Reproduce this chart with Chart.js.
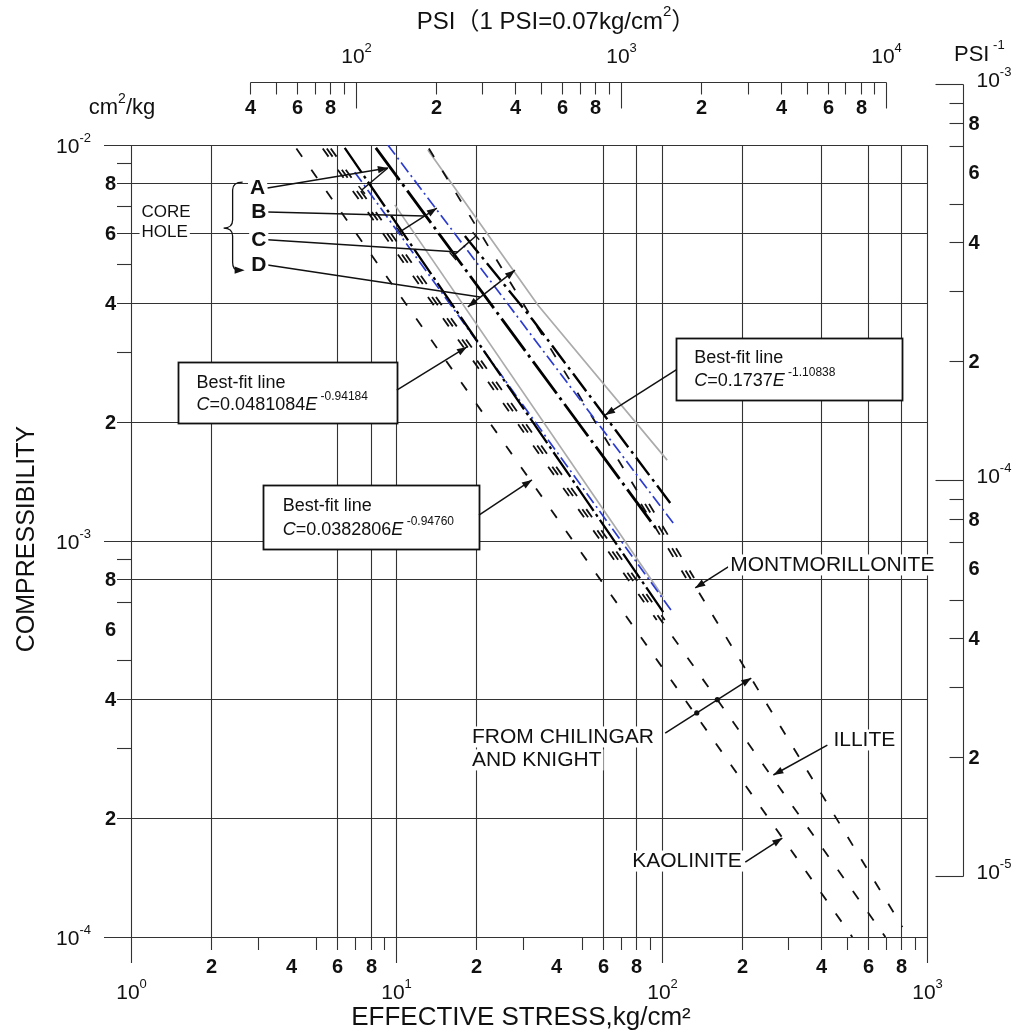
<!DOCTYPE html>
<html>
<head>
<meta charset="utf-8">
<title>Compressibility vs effective stress</title>
<script src="https://cdn.jsdelivr.net/npm/chart.js@4.4.1/dist/chart.umd.min.js"></script>
<style>
html,body{margin:0;padding:0;background:#fff;}
#wrap{position:relative;width:1024px;height:1034px;}
canvas{display:block;}
</style>
</head>
<body>
<div id="wrap"><canvas id="chart" width="1024" height="1034"></canvas></div>
<script>
// ---------------- DATA (E = effective stress, kg/cm2 ; C = compressibility, cm2/kg) ----------------
// Chilingar & Knight clay lines (dashed)
const kaoliniteLine        = [[4.2, 9.8e-3], [523, 1.0e-4]];
const illiteLine           = [[5.47, 9.8e-3], [697, 1.0e-4]];
const illiteLineLeft       = [[5.28, 9.8e-3], [95.8, 6.32e-4]];
const illiteLineRight      = [[5.66, 9.8e-3], [102.7, 6.32e-4]];
const montmorilloniteLine  = [[13.26, 9.8e-3], [808, 1.06e-4]];
const montmorilloniteLeft  = [[79.8, 1.307e-3], [123.6, 8.065e-4]];
const montmorilloniteRight = [[85.5, 1.307e-3], [132.5, 8.065e-4]];
const montmorilloniteRefPt = [82.6, 1.307e-3];
// best-fit lines (blue dash-dot)
const fitLineUpper = [[9.29, 1.0e-2], [110.5, 1.11e-3]];
const fitLineLower = [[6.97, 8.54e-3], [110.5, 6.58e-4]];
// grey envelope lines
const grayLineUpper = [[13.15, 9.71e-3], [34.2, 3.94e-3], [104.9, 1.60e-3]];
const grayLineLower = [[9.87, 7.06e-3], [101.3, 7.22e-4]];
// core-hole data lines (black)
const coreLine1 = [[6.39, 9.83e-3], [103.1, 6.50e-4]];
const coreLine2 = [[8.37, 9.83e-3], [96.2, 1.066e-3]];
const coreLine3 = [[18.13, 5.89e-3], [32.7, 3.614e-3], [107.7, 1.247e-3]];

// axes: tick values
const xGridValues   = [1, 2, 6, 8, 10, 20, 60, 80, 100, 200, 400, 600, 800, 1000];
const xMinorTicks   = [3, 5, 7, 9, 30, 50, 70, 90, 300, 500, 700, 900];
const xDigitLabels  = [2, 4, 6, 8, 20, 40, 60, 80, 200, 400, 600, 800];
const xDecadeValues = [1, 10, 100, 1000];
const yGridValues   = [1e-2, 8e-3, 6e-3, 4e-3, 2e-3, 1e-3, 8e-4, 4e-4, 2e-4, 1e-4];
const yMinorTicks   = [9e-3, 7e-3, 5e-3, 3e-3, 9e-4, 7e-4, 5e-4, 3e-4];
const yDigitLabels  = [8e-3, 6e-3, 4e-3, 2e-3, 8e-4, 6e-4, 4e-4, 2e-4];
const yDecadeValues = [1e-2, 1e-3, 1e-4];
const psiTicks = [40, 50, 60, 70, 80, 90, 100, 200, 300, 400, 500, 600, 700, 800, 900, 1000,
                  2000, 3000, 4000, 5000, 6000, 7000, 8000, 9000, 10000];
const psiDigitLabels = [40, 60, 80, 200, 400, 600, 800, 2000, 4000, 6000, 8000];
const psiDecades = [100, 1000, 10000];
const psiInvDecades = [1e-3, 1e-4, 1e-5];
const psiInvMinor = [9e-4, 8e-4, 7e-4, 5e-4, 4e-4, 3e-4, 2e-4, 9e-5, 8e-5, 7e-5, 5e-5, 4e-5, 3e-5, 2e-5];
const psiInvDigitLabels = [8e-4, 6e-4, 4e-4, 2e-4, 8e-5, 6e-5, 4e-5, 2e-5];
const KG_PER_PSI = 0.0703;

// ---------------- STYLES ----------------
const FONT = '"Liberation Sans", Arial, Helvetica, "Noto Sans CJK SC", sans-serif';
const INK = '#111111';
const GRID = '#333333';
const STYLE = {
  clay:  { color: '#111111', width: 1.8, dash: [10, 16] },
  fit:   { color: '#2b3ccf', width: 1.7, dash: [12, 4, 2, 4] },
  gray:  { color: '#ababab', width: 1.7, dash: [] },
  core1: { color: '#000000', width: 2.3, dash: [30, 4, 3, 4] },
  core2: { color: '#000000', width: 2.8, dash: [40, 5, 3, 5] },
  core3: { color: '#000000', width: 2.4, dash: [22, 5, 3, 5] }
};

const series = [
  { name: 'Grey upper', data: grayLineUpper, style: 'gray', order: 10 },
  { name: 'Grey lower', data: grayLineLower, style: 'gray', order: 10 },
  { name: 'Kaolinite', data: kaoliniteLine, style: 'clay', order: 8 },
  { name: 'Illite', data: illiteLine, style: 'clay', order: 8 },
  { name: 'Illite b', data: illiteLineLeft, style: 'clay', order: 8 },
  { name: 'Illite c', data: illiteLineRight, style: 'clay', order: 8 },
  { name: 'Montmorillonite', data: montmorilloniteLine, style: 'clay', order: 8 },
  { name: 'Montmorillonite b', data: montmorilloniteLeft, style: 'clay', order: 8, phase: [montmorilloniteLine[0], montmorilloniteRefPt] },
  { name: 'Montmorillonite c', data: montmorilloniteRight, style: 'clay', order: 8, phase: [montmorilloniteLine[0], montmorilloniteRefPt] },
  { name: 'Best fit upper', data: fitLineUpper, style: 'fit', order: 6 },
  { name: 'Best fit lower', data: fitLineLower, style: 'fit', order: 6 },
  { name: 'Core 1', data: coreLine1, style: 'core1', order: 4 },
  { name: 'Core 2', data: coreLine2, style: 'core2', order: 4 },
  { name: 'Core 3', data: coreLine3, style: 'core3', order: 4 }
];

// ---------------- ANNOTATIONS (data coordinates) ----------------
const noteTexts = [
  { t: 'CORE', at: [1.096, 6.754e-3], size: 17, align: 'left' },
  { t: 'HOLE', at: [1.096, 6.01e-3], size: 17, align: 'left' },
  { t: 'A', at: [3.0, 7.785e-3], size: 21, weight: 'bold', align: 'center' },
  { t: 'B', at: [3.03, 6.774e-3], size: 21, weight: 'bold', align: 'center' },
  { t: 'C', at: [3.03, 5.756e-3], size: 21, weight: 'bold', align: 'center' },
  { t: 'D', at: [3.03, 4.977e-3], size: 21, weight: 'bold', align: 'center' },
  { t: 'MONTMORILLONITE', at: [181.3, 8.7e-4], size: 21, align: 'left' },
  { t: 'FROM CHILINGAR', at: [19.28, 3.2e-4], size: 21, align: 'left' },
  { t: 'AND KNIGHT', at: [19.28, 2.8e-4], size: 21, align: 'left' },
  { t: 'ILLITE', at: [443.9, 3.145e-4], size: 21, align: 'left' },
  { t: 'KAOLINITE', at: [77.4, 1.555e-4], size: 21, align: 'left' }
];
const noteArrows = [
  { from: [3.27, 7.79e-3], to: [9.29, 8.75e-3], head: 'end' },
  { from: [7.41, 7.70e-3], to: [9.29, 8.75e-3], head: 'none', ticks: 'start' },
  { from: [3.27, 6.77e-3], to: [12.81, 6.62e-3], head: 'none' },
  { from: [10.31, 6.03e-3], to: [14.22, 6.93e-3], head: 'end', ticks: 'start' },
  { from: [3.27, 5.76e-3], to: [17.07, 5.37e-3], head: 'none' },
  { from: [16.34, 5.24e-3], to: [19.95, 5.89e-3], head: 'none', ticks: 'both' },
  { from: [3.27, 4.98e-3], to: [20.66, 4.13e-3], head: 'none' },
  { from: [18.61, 3.90e-3], to: [28.0, 4.83e-3], head: 'both' },
  { from: [10.04, 2.405e-3], to: [18.45, 3.09e-3], head: 'end' },
  { from: [20.48, 1.163e-3], to: [32.45, 1.426e-3], head: 'end' },
  { from: [113.4, 2.703e-3], to: [61.2, 2.08e-3], head: 'end' },
  { from: [178.2, 8.6e-4], to: [133.8, 7.61e-4], head: 'end' },
  { from: [103.1, 3.274e-4], to: [217.6, 4.508e-4], head: 'end' },
  { from: [421.2, 3.053e-4], to: [263.6, 2.565e-4], head: 'end' },
  { from: [206.6, 1.546e-4], to: [284.9, 1.778e-4], head: 'end' }
];
const noteDots = [[135.6, 3.68e-4], [162.1, 3.974e-4]];
const coreBrace = { top: [2.635, 8.06e-3], cusp: [2.234, 6.17e-3], bottom: [2.635, 4.83e-3] };
const fitBoxes = [
  { c1: [1.498, 2.831e-3], c2: [10.04, 1.986e-3], title: [1.767, 2.506e-3], formula: [1.767, 2.205e-3], k: '0.0481084', exp: '-0.94184' },
  { c1: [3.135, 1.384e-3], c2: [20.48, 9.546e-4], title: [3.73, 1.226e-3], formula: [3.73, 1.066e-3], k: '0.0382806', exp: '-0.94760' },
  { c1: [113.4, 3.255e-3], c2: [808, 2.27e-3], title: [132.6, 2.898e-3], formula: [132.6, 2.535e-3], k: '0.1737', exp: '-1.10838' }
];

// ---------------- HELPERS ----------------
function font(size, weight, style) { return `${style || 'normal'} ${weight || 'normal'} ${size}px ${FONT}`; }
function seg(ctx, x0, y0, x1, y1) { ctx.beginPath(); ctx.moveTo(x0, y0); ctx.lineTo(x1, y1); ctx.stroke(); }
function leadDigit(v) { const e = Math.floor(Math.log10(v) + 1e-9); return String(Math.round(v / Math.pow(10, e))); }
function decadeRuns(v, size, supSize) {
  const e = Math.round(Math.log10(v));
  return [{ t: '10', size }, { t: String(e), size: supSize, dy: -size * 0.42, gap: 0 }];
}
function measureRuns(ctx, runs) {
  let total = 0;
  runs.forEach(r => { ctx.font = font(r.size, r.weight, r.style); r.w = ctx.measureText(r.t).width; total += r.w + (r.gap || 0); });
  return total;
}
function drawRuns(ctx, x, y, runs, align, bg) {
  const total = measureRuns(ctx, runs);
  let cx = align === 'right' ? x - total : align === 'center' ? x - total / 2 : x;
  if (bg) {
    const h = Math.max(...runs.map(r => r.size));
    const keep = ctx.fillStyle;
    ctx.fillStyle = '#ffffff';
    ctx.fillRect(cx - 2, y - h * 0.5, total + 4, h);
    ctx.fillStyle = keep;
  }
  ctx.textAlign = 'left'; ctx.textBaseline = 'middle';
  runs.forEach(r => { ctx.font = font(r.size, r.weight, r.style); ctx.fillText(r.t, cx, y + (r.dy || 0)); cx += r.w + (r.gap || 0); });
  return total;
}
function arrowHead(ctx, x0, y0, x1, y1) {
  const len = 10, half = 3.6, a = Math.atan2(y1 - y0, x1 - x0);
  const c = Math.cos(a), s = Math.sin(a);
  ctx.beginPath();
  ctx.moveTo(x1, y1);
  ctx.lineTo(x1 - len * c + half * s, y1 - len * s - half * c);
  ctx.lineTo(x1 - len * c - half * s, y1 - len * s + half * c);
  ctx.closePath(); ctx.fill();
}
function perpTick(ctx, x0, y0, x1, y1, atX, atY) {
  const a = Math.atan2(y1 - y0, x1 - x0), L = 5;
  seg(ctx, atX - L * Math.sin(a), atY + L * Math.cos(a), atX + L * Math.sin(a), atY - L * Math.cos(a));
}
function dashPhase(ref, start) {
  return (c) => {
    const ch = c.chart, xs = ch.scales && ch.scales.x, ys = ch.scales && ch.scales.y;
    if (!xs || !ys) return 0;
    const d = Math.hypot(xs.getPixelForValue(start[0]) - xs.getPixelForValue(ref[0]),
                         ys.getPixelForValue(start[1]) - ys.getPixelForValue(ref[1]));
    return isFinite(d) ? d : 0;
  };
}

// ---------------- FRAME / AXES ----------------
function drawFrame(chart) {
  const { ctx, chartArea: a, scales: { x, y } } = chart;
  const X = v => Math.round(x.getPixelForValue(v)) + 0.5;
  const Y = v => Math.round(y.getPixelForValue(v)) + 0.5;
  ctx.save();
  ctx.setLineDash([]);
  ctx.strokeStyle = GRID; ctx.lineWidth = 1.1;
  yGridValues.forEach(v => seg(ctx, a.left - (yDecadeValues.includes(v) ? 27 : 14), Y(v), a.right, Y(v)));
  yMinorTicks.forEach(v => seg(ctx, a.left - 14, Y(v), a.left, Y(v)));
  xGridValues.forEach(v => seg(ctx, X(v), a.top, X(v), a.bottom + (xDecadeValues.includes(v) ? 26 : 13)));
  xMinorTicks.forEach(v => seg(ctx, X(v), a.bottom, X(v), a.bottom + 13));

  ctx.fillStyle = INK;
  yDigitLabels.forEach(v => drawRuns(ctx, a.left - 15, Y(v) + 1, [{ t: leadDigit(v), size: 20, weight: 'bold' }], 'right'));
  yDecadeValues.forEach(v => drawRuns(ctx, a.left - 40, Y(v) + 2, decadeRuns(v, 21, 13), 'right'));
  xDigitLabels.forEach(v => drawRuns(ctx, X(v), a.bottom + 30, [{ t: leadDigit(v), size: 20, weight: 'bold' }], 'center'));
  xDecadeValues.forEach(v => drawRuns(ctx, X(v), a.bottom + 56, decadeRuns(v, 21, 13), 'center'));

  // top PSI axis
  const topY = a.top - 62.5;
  const XP = p => Math.round(x.getPixelForValue(p * KG_PER_PSI)) + 0.5;
  seg(ctx, XP(psiTicks[0]), topY, XP(psiTicks[psiTicks.length - 1]), topY);
  psiTicks.forEach(p => seg(ctx, XP(p), topY, XP(p), topY + (psiDecades.includes(p) ? 26 : 12)));
  psiDigitLabels.forEach(p => drawRuns(ctx, XP(p), topY + 26, [{ t: leadDigit(p), size: 20, weight: 'bold' }], 'center'));
  psiDecades.forEach(p => drawRuns(ctx, XP(p), topY - 25, decadeRuns(p, 21, 13), 'center'));

  // right PSI^-1 axis
  const rx = Math.round(a.right + 36) + 0.5;
  const YP = v => Math.round(y.getPixelForValue(v / KG_PER_PSI)) + 0.5;
  seg(ctx, rx, YP(psiInvDecades[0]), rx, YP(psiInvDecades[psiInvDecades.length - 1]));
  psiInvDecades.forEach(v => seg(ctx, rx - 28, YP(v), rx, YP(v)));
  psiInvMinor.forEach(v => seg(ctx, rx - 14, YP(v), rx, YP(v)));
  psiInvDigitLabels.forEach(v => drawRuns(ctx, rx + 5, YP(v) + 1, [{ t: leadDigit(v), size: 20, weight: 'bold' }], 'left'));
  psiInvDecades.forEach(v => drawRuns(ctx, rx + 13, YP(v) - 3, decadeRuns(v, 21, 13), 'left'));

  // axis titles
  drawRuns(ctx, 556, 22, [{ t: 'PSI（1 PSI=0.07kg/cm', size: 24 }, { t: '2', size: 15, dy: -10 }, { t: '）', size: 24 }], 'center');
  drawRuns(ctx, 122, 108, [{ t: 'cm', size: 22 }, { t: '2', size: 14, dy: -9 }, { t: '/kg', size: 22 }], 'center');
  drawRuns(ctx, 954, 55, [{ t: 'PSI', size: 22 }, { t: ' -1', size: 13, dy: -10 }], 'left');
  drawRuns(ctx, 521, 1018, [{ t: 'EFFECTIVE STRESS,kg/cm²', size: 26 }], 'center');
  ctx.save();
  ctx.translate(27, 539); ctx.rotate(-Math.PI / 2);
  drawRuns(ctx, 0, 0, [{ t: 'COMPRESSIBILITY', size: 25 }], 'center');
  ctx.restore();
  ctx.restore();
}

// ---------------- NOTES ----------------
function drawNotes(chart) {
  const { ctx, scales: { x, y } } = chart;
  const P = ([e, c]) => [x.getPixelForValue(e), y.getPixelForValue(c)];
  ctx.save();
  ctx.setLineDash([]);
  ctx.strokeStyle = INK; ctx.fillStyle = INK;

  // best-fit boxes
  fitBoxes.forEach(b => {
    const [x0, y0] = P(b.c1), [x1, y1] = P(b.c2);
    const rx0 = Math.round(x0) + 0.5, ry0 = Math.round(y0) + 0.5, rx1 = Math.round(x1) + 0.5, ry1 = Math.round(y1) + 0.5;
    ctx.fillStyle = '#ffffff'; ctx.fillRect(rx0, ry0, rx1 - rx0, ry1 - ry0);
    ctx.lineWidth = 1.8; ctx.strokeRect(rx0, ry0, rx1 - rx0, ry1 - ry0);
    ctx.fillStyle = INK;
    const [tx, ty] = P(b.title);
    drawRuns(ctx, tx, ty, [{ t: 'Best-fit line', size: 18 }], 'left');
    const [fx, fy] = P(b.formula);
    drawRuns(ctx, fx, fy, [
      { t: 'C', size: 18, style: 'italic' }, { t: '=' + b.k, size: 18 },
      { t: 'E', size: 18, style: 'italic' }, { t: ' ' + b.exp, size: 12, dy: -8 }
    ], 'left');
  });

  // arrows and brackets
  ctx.lineWidth = 1.5;
  noteArrows.forEach(n => {
    const [x0, y0] = P(n.from), [x1, y1] = P(n.to);
    seg(ctx, x0, y0, x1, y1);
    if (n.head === 'end' || n.head === 'both') arrowHead(ctx, x0, y0, x1, y1);
    if (n.head === 'both') arrowHead(ctx, x1, y1, x0, y0);
    if (n.ticks === 'start' || n.ticks === 'both') perpTick(ctx, x0, y0, x1, y1, x0, y0);
    if (n.ticks === 'both') perpTick(ctx, x0, y0, x1, y1, x1, y1);
  });
  noteDots.forEach(d => { const [px, py] = P(d); ctx.beginPath(); ctx.arc(px, py, 2.6, 0, Math.PI * 2); ctx.fill(); });

  // brace for core holes
  const [bxr, byt] = P(coreBrace.top), [bxl, byc] = P(coreBrace.cusp), [, byb] = P(coreBrace.bottom);
  const bxm = bxl + 9;
  ctx.lineWidth = 1.3;
  ctx.beginPath();
  ctx.moveTo(bxr, byt);
  ctx.quadraticCurveTo(bxm, byt, bxm, byt + 8);
  ctx.lineTo(bxm, byc - 8);
  ctx.quadraticCurveTo(bxm, byc, bxl, byc);
  ctx.quadraticCurveTo(bxm, byc, bxm, byc + 8);
  ctx.lineTo(bxm, byb - 8);
  ctx.quadraticCurveTo(bxm, byb, bxr - 4, byb);
  ctx.stroke();
  arrowHead(ctx, bxr - 10, byb, bxr + 2, byb);

  // text labels
  noteTexts.forEach(n => {
    const [px, py] = P(n.at);
    drawRuns(ctx, px, py, [{ t: n.t, size: n.size, weight: n.weight }], n.align, true);
  });
  ctx.restore();
}

const decorPlugin = {
  id: 'figureDecor',
  beforeDatasetsDraw(chart) { drawFrame(chart); },
  afterDatasetsDraw(chart) { drawNotes(chart); }
};

// ---------------- CHART ----------------
const datasets = series.map(s => {
  const st = STYLE[s.style];
  return {
    label: s.name,
    data: s.data.map(([e, c]) => ({ x: e, y: c })),
    showLine: true, fill: false, tension: 0,
    borderColor: st.color, borderWidth: st.width, borderDash: st.dash,
    borderDashOffset: s.phase ? dashPhase(s.phase[0], s.phase[1]) : 0,
    borderCapStyle: 'butt',
    pointRadius: 0, pointHoverRadius: 0, pointHitRadius: 0,
    order: s.order
  };
});

new Chart(document.getElementById('chart'), {
  type: 'scatter',
  data: { datasets },
  options: {
    responsive: false,
    animation: false,
    devicePixelRatio: 1,
    events: [],
    layout: { padding: { left: 131, right: 97, top: 145, bottom: 97 } },
    scales: {
      x: { type: 'logarithmic', min: 1, max: 1000, display: false },
      y: { type: 'logarithmic', min: 1e-4, max: 1e-2, display: false }
    },
    plugins: { legend: { display: false }, tooltip: { enabled: false } }
  },
  plugins: [decorPlugin]
});
</script>
</body>
</html>
